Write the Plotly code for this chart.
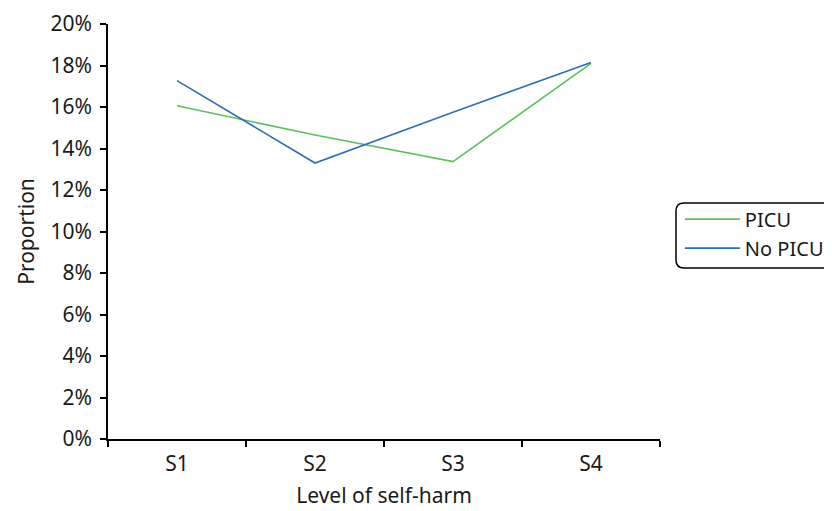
import plotly.graph_objects as go

categories = ["S1", "S2", "S3", "S4"]
picu = [0.1606, 0.1465, 0.1337, 0.1810]
no_picu = [0.1727, 0.1330, 0.1575, 0.1815]
y_ticks = [0, 0.02, 0.04, 0.06, 0.08, 0.10, 0.12, 0.14, 0.16, 0.18, 0.20]

FONT = "Noto Sans"
FS = 21

fig = go.Figure()
fig.add_trace(go.Scatter(x=categories, y=picu, mode="lines", name="PICU",
                         line=dict(color="#5cc15a", width=1.6)))
fig.add_trace(go.Scatter(x=categories, y=no_picu, mode="lines", name="No PICU",
                         line=dict(color="#2f6db5", width=1.6)))

fig.update_layout(
    width=832, height=511,
    margin=dict(l=100, r=180, t=16, b=80, autoexpand=False),
    paper_bgcolor="white", plot_bgcolor="white",
    font=dict(family=FONT, size=FS, color="#1a1a1a"),
    showlegend=True,
    legend=dict(x=1.036, y=0.495, xanchor="left", yanchor="middle",
                bgcolor="rgba(0,0,0,0)", borderwidth=0, itemwidth=55,
                font=dict(family=FONT, size=20), tracegroupgap=0),
    xaxis=dict(type="category", range=[-0.5, 3.5], showline=True, linecolor="black",
               linewidth=1.5, ticks="outside", tickson="boundaries", ticklen=6,
               tickwidth=1.5, tickcolor="black", showgrid=False, zeroline=False,
               automargin=False,
               tickfont=dict(family=FONT, size=FS), ticklabelstandoff=5,
               title=dict(text="Level of self-harm", standoff=12,
                          font=dict(family=FONT, size=FS))),
    yaxis=dict(range=[0, 0.20], tickvals=y_ticks, tickformat=".0%", showline=True,
               linecolor="black", linewidth=1.5, ticks="outside", ticklen=6,
               tickwidth=1.5, tickcolor="black", showgrid=False, zeroline=False,
               automargin=False,
               tickfont=dict(family=FONT, size=FS), ticklabelstandoff=4,
               title=dict(text="Proportion", standoff=10,
                          font=dict(family=FONT, size=FS))),
)

# rounded legend frame
x0 = (676 - 108) / 552
x1 = (845 - 108) / 552
y0 = (439 - 268) / 415
y1 = (439 - 203) / 415
rx = 8 / 552
ry = 8 / 415
path = (f"M {x0+rx} {y1} L {x1-rx} {y1} Q {x1} {y1} {x1} {y1-ry} "
        f"L {x1} {y0+ry} Q {x1} {y0} {x1-rx} {y0} L {x0+rx} {y0} "
        f"Q {x0} {y0} {x0} {y0+ry} L {x0} {y1-ry} Q {x0} {y1} {x0+rx} {y1} Z")
fig.add_shape(type="path", xref="paper", yref="paper", path=path,
              line=dict(color="black", width=1.5), fillcolor="rgba(0,0,0,0)")

fig.write_html("out.html")
